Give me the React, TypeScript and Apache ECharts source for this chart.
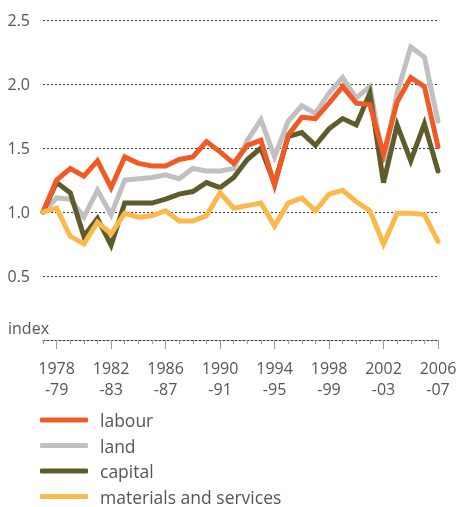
import React, { useEffect, useRef } from "react";
import * as echarts from "echarts";

const categories = [
  "1977-78", "1978-79", "1979-80", "1980-81", "1981-82", "1982-83", "1983-84", "1984-85",
  "1985-86", "1986-87", "1987-88", "1988-89", "1989-90", "1990-91", "1991-92", "1992-93",
  "1993-94", "1994-95", "1995-96", "1996-97", "1997-98", "1998-99", "1999-00", "2000-01",
  "2001-02", "2002-03", "2003-04", "2004-05", "2005-06", "2006-07",
];

const labour = [1.0, 1.25, 1.34, 1.28, 1.4, 1.19, 1.43, 1.38, 1.36, 1.36, 1.41, 1.43, 1.55, 1.47, 1.38, 1.52, 1.56, 1.21, 1.6, 1.74, 1.73, 1.85, 1.98, 1.85, 1.84, 1.45, 1.86, 2.05, 1.98, 1.51];
const land = [1.0, 1.11, 1.1, 0.96, 1.17, 0.98, 1.25, 1.26, 1.27, 1.29, 1.26, 1.34, 1.32, 1.32, 1.34, 1.56, 1.72, 1.43, 1.71, 1.83, 1.77, 1.93, 2.05, 1.89, 1.98, 1.39, 1.93, 2.29, 2.21, 1.71];
const capital = [1.0, 1.23, 1.15, 0.81, 0.95, 0.74, 1.07, 1.07, 1.07, 1.1, 1.14, 1.16, 1.23, 1.19, 1.27, 1.41, 1.5, 1.22, 1.59, 1.62, 1.52, 1.65, 1.73, 1.68, 1.93, 1.23, 1.68, 1.4, 1.69, 1.32];
const materials = [1.0, 1.03, 0.81, 0.75, 0.92, 0.83, 0.99, 0.96, 0.97, 1.01, 0.93, 0.93, 0.97, 1.15, 1.03, 1.05, 1.07, 0.89, 1.07, 1.11, 1.01, 1.14, 1.17, 1.08, 1.01, 0.75, 0.99, 0.99, 0.98, 0.77];

const seriesNames = ["labour", "land", "capital", "materials and services"];
const yTicks = { min: 0, max: 2.5, interval: 0.5 };
const yAxisTitle = "index";

const COLORS: Record<string, string> = {
  labour: "#F15A24",
  land: "#C0C0C0",
  capital: "#5E5C2C",
  "materials and services": "#FDB84B",
};

const FONT = "'Open Sans', 'Noto Sans', sans-serif";
const TEXT_COLOR = "#555555";

const isMajor = (i: number) => (i - 1) % 4 === 0;

export default function App() {
  const ref = useRef<HTMLDivElement>(null);

  useEffect(() => {
    if (!ref.current) return;
    const chart = echarts.init(ref.current, undefined, { renderer: "svg" });
    const dataMap: Record<string, number[]> = {
      labour,
      land,
      capital,
      "materials and services": materials,
    };
    const drawOrder = ["land", "capital", "labour", "materials and services"];
    const grid = { left: 43, right: 23, top: 20, bottom: 167 };
    chart.setOption({
      animation: false,
      grid,
      legend: {
        data: seriesNames,
        orient: "vertical",
        left: 40,
        top: 411,
        height: 160,
        padding: 0,
        icon: "roundRect",
        itemWidth: 48,
        itemHeight: 5,
        itemGap: 7.5,
        textStyle: { fontFamily: FONT, fontSize: 17.5, color: TEXT_COLOR, lineHeight: 16, padding: [0, 0, 0, 7] },
        selectedMode: false,
      },
      xAxis: [
        {
          type: "category",
          data: categories,
          boundaryGap: false,
          axisLine: { show: true, lineStyle: { type: [2, 2], color: "#333333", width: 1 } },
          axisTick: { show: true, interval: 0, length: 4, lineStyle: { color: "#999999", width: 1, type: "solid" } },
          axisLabel: {
            interval: (i: number) => isMajor(i),
            formatter: (v: string) => {
              const [a, b] = v.split("-");
              return a + "\n-" + b;
            },
            fontFamily: FONT,
            fontSize: 16,
            color: TEXT_COLOR,
            lineHeight: 21,
            margin: 17,
          },
          splitLine: { show: false },
        },
        {
          type: "category",
          data: categories,
          boundaryGap: false,
          position: "bottom",
          axisLine: { show: false },
          axisTick: { show: true, interval: (i: number) => isMajor(i), length: 9, lineStyle: { color: "#999999", width: 1 } },
          axisLabel: { show: false },
          splitLine: { show: false },
        },
      ],
      yAxis: {
        type: "value",
        min: yTicks.min,
        max: yTicks.max,
        interval: yTicks.interval,
        axisLine: { show: false },
        axisTick: { show: false },
        axisLabel: {
          formatter: (v: number) => (v === 0 ? "" : v.toFixed(1)),
          fontFamily: FONT,
          fontSize: 16,
          color: TEXT_COLOR,
          margin: 13,
        },
        splitLine: { show: true, lineStyle: { type: [2, 2], color: "#333333", width: 1 } },
      },
      graphic: [
        {
          type: "text",
          left: 8,
          top: 320,
          style: { text: yAxisTitle, fontFamily: FONT, fontSize: 16, fill: TEXT_COLOR },
        },
      ],
      series: drawOrder.map((name) => ({
        name,
        type: "line",
        data: dataMap[name],
        xAxisIndex: 0,
        symbol: "none",
        color: COLORS[name],
        lineStyle: { width: 5, color: COLORS[name], cap: "round", join: "miter" },
        emphasis: { disabled: true },
      })),
    });
    return () => chart.dispose();
  }, []);

  return <div ref={ref} style={{ position: "fixed", left: 0, top: 0, width: 461, height: 507 }} />;
}
